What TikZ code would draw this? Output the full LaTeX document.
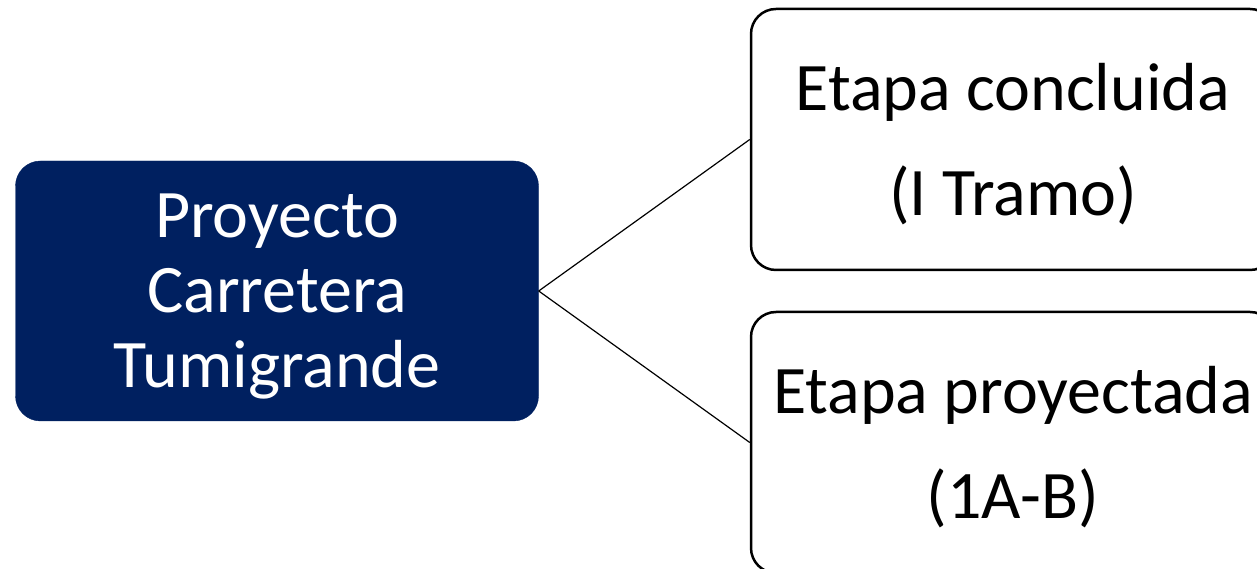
\documentclass[tikz,border=0pt]{standalone}
\usepackage{fontspec}
\setmainfont{Carlito}
\definecolor{navy}{RGB}{0,32,96}

\begin{document}
\begin{tikzpicture}[x=1pt,y=1pt,
	main/.style={draw=navy, fill=navy, text=white, rounded corners=25pt, minimum width=523pt, minimum height=260pt, align=center, text depth=0pt, font=\fontsize{68}{75}\selectfont},
	stage/.style={draw=black, line width=2.5pt, rounded corners=25pt, minimum width=524pt, minimum height=261pt, align=center, text depth=0pt, font=\fontsize{68}{105}\selectfont}]

	\useasboundingbox (0,0) rectangle (1257,569);

	\node[main] (proyecto) at (277,278) {Proyecto\\Carretera\\Tumigrande};
	\node[stage] (concluida) at (1013,429.5) {Etapa concluida\\(I Tramo)};
	\node[stage] (proyectada) at (1013,126.5) {Etapa proyectada\\(1A-B)};

	\draw[line width = 1.2pt] (proyecto.east) -- (concluida.west);
	\draw[line width = 1.2pt] (proyecto.east) -- (proyectada.west);
\end{tikzpicture}
\end{document}
